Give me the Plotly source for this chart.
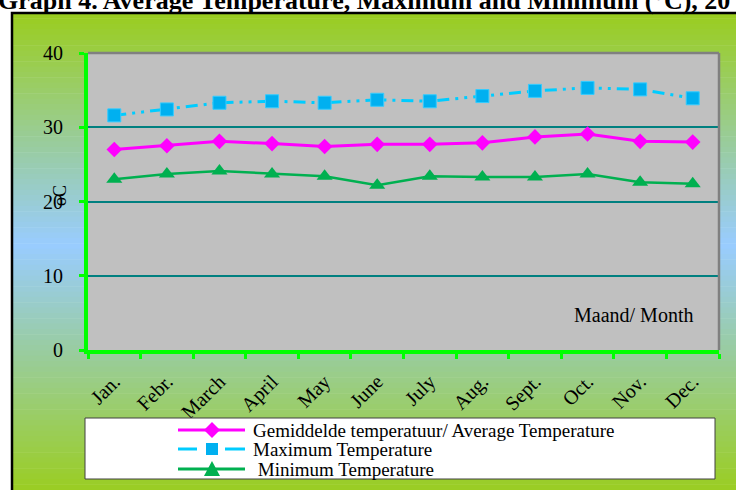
import plotly.graph_objects as go

months = ["Jan.", "Febr.", "March", "April", "May", "June",
          "July", "Aug.", "Sept.", "Oct.", "Nov.", "Dec."]
avg_temp = [27.0, 27.5, 28.1, 27.8, 27.4, 27.7, 27.7, 27.9, 28.7, 29.1, 28.1, 28.0]
max_temp = [31.6, 32.4, 33.3, 33.5, 33.3, 33.7, 33.5, 34.2, 34.9, 35.3, 35.1, 33.9]
min_temp = [23.0, 23.7, 24.1, 23.7, 23.4, 22.2, 23.4, 23.3, 23.3, 23.7, 22.6, 22.4]

names = ["Gemiddelde temperatuur/ Average Temperature",
         "Maximum Temperature",
         "&nbsp;Minimum Temperature"]

W, H = 736, 490
L, R, T, B = 88, 719, 53, 350   # plot area in pixels
SERIF = "Liberation Serif, Times New Roman, serif"


def px(x):
    return (x - L) / (R - L)


def py(y):
    return (B - y) / (B - T)


fig = go.Figure()
fig.add_trace(go.Scatter(x=months, y=avg_temp, name=names[0], mode="lines+markers",
                         line=dict(color="#FF00FF", width=3),
                         marker=dict(symbol="diamond", size=12, color="#FF00FF")))
fig.add_trace(go.Scatter(x=months, y=max_temp, name=names[1], mode="lines+markers",
                         line=dict(color="#00CCFF", width=3, dash="12px,6px,3px,6px,3px,6px"),
                         marker=dict(symbol="square", size=13, color="#00B0F0",
                                     line=dict(color="#33CCFF", width=1))))
fig.add_trace(go.Scatter(x=months, y=min_temp, name=names[2], mode="lines+markers",
                         line=dict(color="#00B050", width=2.5),
                         marker=dict(symbol="triangle-up", size=14, color="#00B050")))
fig.update_traces(showlegend=False)

shapes = []
# gradient frame background (green - light blue - green)
c_end = (154, 205, 30)
c_mid = (153, 204, 255)
y0, ymid, y1 = 13, 245, 495
n = 90
for i in range(n):
    a = y0 + (y1 - y0) * i / n
    b = y0 + (y1 - y0) * (i + 1) / n
    m = (a + b) / 2
    t = (m - y0) / (ymid - y0) if m < ymid else (y1 - m) / (y1 - ymid)
    t = max(0, min(1, t))
    col = tuple(round(c_end[k] + (c_mid[k] - c_end[k]) * t) for k in range(3))
    shapes.append(dict(type="rect", xref="paper", yref="paper", layer="below",
                       x0=px(12), x1=px(745), y0=py(b + 0.5), y1=py(a),
                       fillcolor="rgb(%d,%d,%d)" % col, line=dict(width=0)))
shapes.append(dict(type="rect", xref="paper", yref="paper", layer="below",
                   x0=px(12), x1=px(750), y0=py(500), y1=py(13),
                   line=dict(color="black", width=2.5)))
# plot area
shapes.append(dict(type="rect", xref="paper", yref="paper", layer="below",
                   x0=0, x1=1, y0=0, y1=1, fillcolor="#C0C0C0", line=dict(width=0)))
shapes.append(dict(type="line", xref="paper", yref="paper", layer="above",
                   x0=0, x1=1, y0=1, y1=1, line=dict(color="#808080", width=2.5)))
shapes.append(dict(type="line", xref="paper", yref="paper", layer="above",
                   x0=1, x1=1, y0=0, y1=1, line=dict(color="#808080", width=2.5)))
# legend box (drawn over the lower part of the month labels, as in the original)
shapes.append(dict(type="rect", xref="paper", yref="paper", layer="above",
                   x0=px(85), x1=px(715), y0=py(479), y1=py(418),
                   fillcolor="white", line=dict(color="#404040", width=1)))

rows = [430, 449, 469]
colors = ["#FF00FF", "#00CCFF", "#00B050"]
mcolors = ["#FF00FF", "#00B0F0", "#00B050"]
for k, yr in enumerate(rows):
    segs = [(178, 197), (225, 245)] if k == 1 else [(178, 245)]
    for xa, xb in segs:
        shapes.append(dict(type="line", xref="paper", yref="paper", layer="above",
                           x0=px(xa), x1=px(xb), y0=py(yr), y1=py(yr),
                           line=dict(color=colors[k], width=3)))
    cx = 212
    if k == 0:
        path = "M %f %f L %f %f L %f %f L %f %f Z" % (
            px(cx - 8), py(yr), px(cx), py(yr - 8), px(cx + 8), py(yr), px(cx), py(yr + 8))
    elif k == 1:
        path = "M %f %f L %f %f L %f %f L %f %f Z" % (
            px(cx - 6), py(yr - 6), px(cx + 6), py(yr - 6), px(cx + 6), py(yr + 6), px(cx - 6), py(yr + 6))
    else:
        path = "M %f %f L %f %f L %f %f Z" % (
            px(cx - 8), py(yr + 7), px(cx), py(yr - 8), px(cx + 8), py(yr + 7))
    shapes.append(dict(type="path", xref="paper", yref="paper", layer="above", path=path,
                       fillcolor=mcolors[k], line=dict(width=0)))

annotations = []
for k, yr in enumerate(rows):
    annotations.append(dict(xref="paper", yref="paper", x=px(251), y=py(yr),
                            xanchor="left", yanchor="middle", showarrow=False,
                            text=names[k],
                            font=dict(family=SERIF, size=19, color="black")))
annotations.append(dict(xref="paper", yref="paper", x=px(633), y=py(315),
                        xanchor="center", yanchor="middle",
                        showarrow=False, text="Maand/ Month",
                        font=dict(family=SERIF, size=20, color="black")))
annotations.append(dict(xref="paper", yref="paper", x=px(60), y=py(196),
                        xanchor="center", yanchor="middle",
                        showarrow=False, text="oC", textangle=-90,
                        font=dict(family=SERIF, size=18, color="black")))
annotations.append(dict(xref="paper", yref="paper", x=px(-4), y=py(0),
                        xanchor="left", yanchor="middle", showarrow=False,
                        text="<b>Graph 4. Average Temperature, Maximum and Minimum (°C), 20</b>",
                        font=dict(family=SERIF, size=26, color="black")))

fig.update_layout(
    width=W, height=H,
    margin=dict(l=L, r=W - R, t=T, b=H - B),
    paper_bgcolor="white", plot_bgcolor="rgba(0,0,0,0)",
    showlegend=False, shapes=shapes, annotations=annotations,
    font=dict(family=SERIF, color="black"),
)
fig.update_xaxes(type="category", range=[-0.5, 11.5], showgrid=False,
                 showline=True, linecolor="#00FF00", linewidth=4,
                 ticks="outside", tickson="boundaries", ticklen=5, tickwidth=3, tickcolor="#00FF00",
                 tickangle=-45, ticklabelstandoff=8,
                 tickfont=dict(family=SERIF, size=20, color="black"))
fig.update_yaxes(range=[0, 40], tickvals=[0, 10, 20, 30, 40],
                 showgrid=True, gridcolor="#008080", gridwidth=2, zeroline=False,
                 showline=True, linecolor="#00FF00", linewidth=4,
                 ticks="outside", ticklen=5, tickwidth=3, tickcolor="#00FF00",
                 ticklabelstandoff=12,
                 tickfont=dict(family=SERIF, size=20, color="black"))

# page without the default 8px body margin, so the figure sits at the window corner
fig.write_html("out.html", config={"displayModeBar": False},
               post_script="document.body.style.margin='0';")
